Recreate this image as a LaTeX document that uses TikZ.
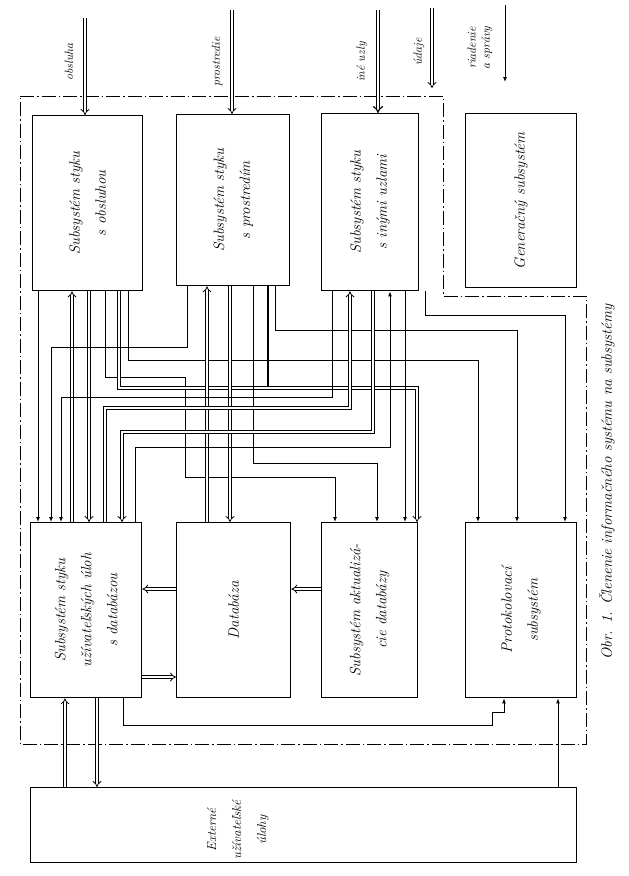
\documentclass[tikz,border=0pt]{standalone}
\usetikzlibrary{arrows.meta}
\begin{document}
\begin{tikzpicture}[x=1pt,y=-1pt,
  box/.style={draw,line width=1.4pt,anchor=north west,inner sep=0pt},
  txt/.style={rotate=90,align=center,font=\itshape\fontsize{15}{26}\selectfont},
  lbl/.style={rotate=90,align=center,font=\itshape\fontsize{12}{14}\selectfont},
  thin/.style={line width=0.9pt,-{Latex[length=5pt,width=4pt]}},
  dbl/.style={double,double distance=2.2pt,line width=0.8pt,-{Implies}},
  bnd/.style={line width=0.8pt,dash pattern=on 14pt off 3pt on 1.5pt off 3pt}]
\useasboundingbox (0,0) rectangle (629,876);
% boxes
\node[box,minimum width=110pt,minimum height=175pt] (b1) at (32,115) {};
\node[box,minimum width=113pt,minimum height=171pt] (b2) at (176,114) {};
\node[box,minimum width=97pt,minimum height=177pt] (b3) at (321,113) {};
\node[box,minimum width=111pt,minimum height=174pt] (b4) at (465,113) {};
\node[box,minimum width=111pt,minimum height=175pt] (b5) at (30,522) {};
\node[box,minimum width=114pt,minimum height=175pt] (b6) at (176,522) {};
\node[box,minimum width=96pt,minimum height=175pt] (b7) at (321,522) {};
\node[box,minimum width=111pt,minimum height=175pt] (b8) at (465,522) {};
\node[box,minimum width=546pt,minimum height=75pt] (ext) at (30,787) {};
% texts
\node[txt] (t1) at (b1.center) {Subsystém styku\\s obsluhou};
\node[txt] (t2) at (b2.center) {Subsystém styku\\s prostredím};
\node[txt] (t3) at (b3.center) {Subsystém styku\\s inými uzlami};
\node[txt] (t4) at (b4.center) {Generačný subsystém};
\node[txt] (t5) at (b5.center) {Subsystém styku\\užívateľských úloh\\s databázou};
\node[txt] (t6) at (b6.center) {Databáza};
\node[txt] (t7) at (b7.center) {Subsystém aktualizá-\\cie databázy};
\node[txt] (t8) at (b8.center) {Protokolovací\\subsystém};
\node[txt,font=\itshape\fontsize{13}{25}\selectfont] (t9) at (238,830) {Externé\\užívateľské\\úlohy};
\node[rotate=90,font=\itshape\fontsize{15}{17}\selectfont] (cap) at (607,482) {Obr. 1. Členenie informačného systému na subsystémy};
% boundary
\draw[bnd] (20,96) -- (443,96) -- (443,296) -- (586,296) -- (586,744) -- (20,744) -- cycle;
% top inputs
\coordinate (i1) at (85,18); \coordinate (i2) at (232,10); \coordinate (i3) at (378,10);
\coordinate (i4a) at (432,8); \coordinate (i4b) at (432,88);
\coordinate (i5a) at (505,5); \coordinate (i5b) at (505,82);
\node[lbl] (l1) at (69,62) {obsluha};
\node[lbl] (l2) at (217,62) {prostredie};
\node[lbl] (l3) at (362,62) {iné uzly};
\node[lbl] (l4) at (419,52) {údaje};
\node[lbl] (l5) at (480,48) {riadenie\\a správy};
\draw[dbl] (i1) -- (b1.north -| 85,0);
\draw[dbl] (i2) -- (b2.north -| 232,0);
\draw[dbl,line width=1.2pt] (i3) -- (b3.north -| 378,0);
\draw[dbl] (i4a) -- (i4b);
\draw[thin] (i5a) -- (i5b);
% box1 connectors
\draw[thin] (b1.south -| 38,0) -- (b5.north -| 38,0);
\draw[dbl] (b5.north -| 72,0) -- (b1.south -| 72,0);
\draw[dbl] (b1.south -| 89,0) -- (b5.north -| 89,0);
\draw[thin] (b1.south -| 105,0) -- (105,377) -- (185,377) -- (185,477) -- (335,477) -- (b7.north -| 335,0);
\draw[dbl] (b1.south -| 119,0) -- (119,388) -- (417,388) -- (b7.north -| 417,0);
\draw[thin] (b1.south -| 128,0) -- (128,360) -- (478,360) -- (b8.north -| 478,0);
% box2 connectors
\draw[thin] (b2.south -| 187,0) -- (187,347) -- (51,347) -- (b5.north -| 51,0);
\draw[dbl] (b6.north -| 207,0) -- (b2.south -| 207,0);
\draw[dbl] (b2.south -| 230,0) -- (b6.north -| 230,0);
\draw[thin] (b2.south -| 253,0) -- (253,463) -- (377,463) -- (b7.north -| 377,0);
\draw[line width=1.8pt] (b2.south -| 268,0) -- (268,386);
\draw[thin] (b2.south -| 275,0) -- (275,330) -- (517,330) -- (b8.north -| 517,0);
% box3 connectors
\draw[thin] (b3.south -| 332,0) -- (332,397) -- (61,397) -- (b5.north -| 61,0);
\draw[dbl] (b5.north -| 105,0) -- (105,408) -- (350,408) -- (b3.south -| 350,0);
\draw[dbl] (b3.south -| 373,0) -- (373,432) -- (122,432) -- (b5.north -| 122,0);
\draw[thin] (b5.north -| 135,0) -- (135,447) -- (390,447) -- (b3.south -| 390,0);
\draw[thin] (b3.south -| 405,0) -- (b7.north -| 405,0);
\draw[thin] (b3.south -| 425,0) -- (425,315) -- (565,315) -- (b8.north -| 565,0);
% horizontal database arrows
\draw[dbl] (b6.west |- 0,589) -- (b5.east |- 0,589);
\draw[dbl] (b5.east |- 0,677) -- (b6.west |- 0,677);
\draw[dbl] (b7.west |- 0,589) -- (b6.east |- 0,589);
% bottom connectors
\draw[dbl] (ext.north -| 65,0) -- (b5.south -| 65,0);
\draw[dbl] (b5.south -| 97,0) -- (ext.north -| 97,0);
\draw[thin] (b5.south -| 123,0) -- (123,725) -- (492,725) -- (492,712) -- (504,712) -- (b8.south -| 504,0);
\draw[thin] (ext.north -| 558,0) -- (b8.south -| 558,0);
\end{tikzpicture}
\end{document}
